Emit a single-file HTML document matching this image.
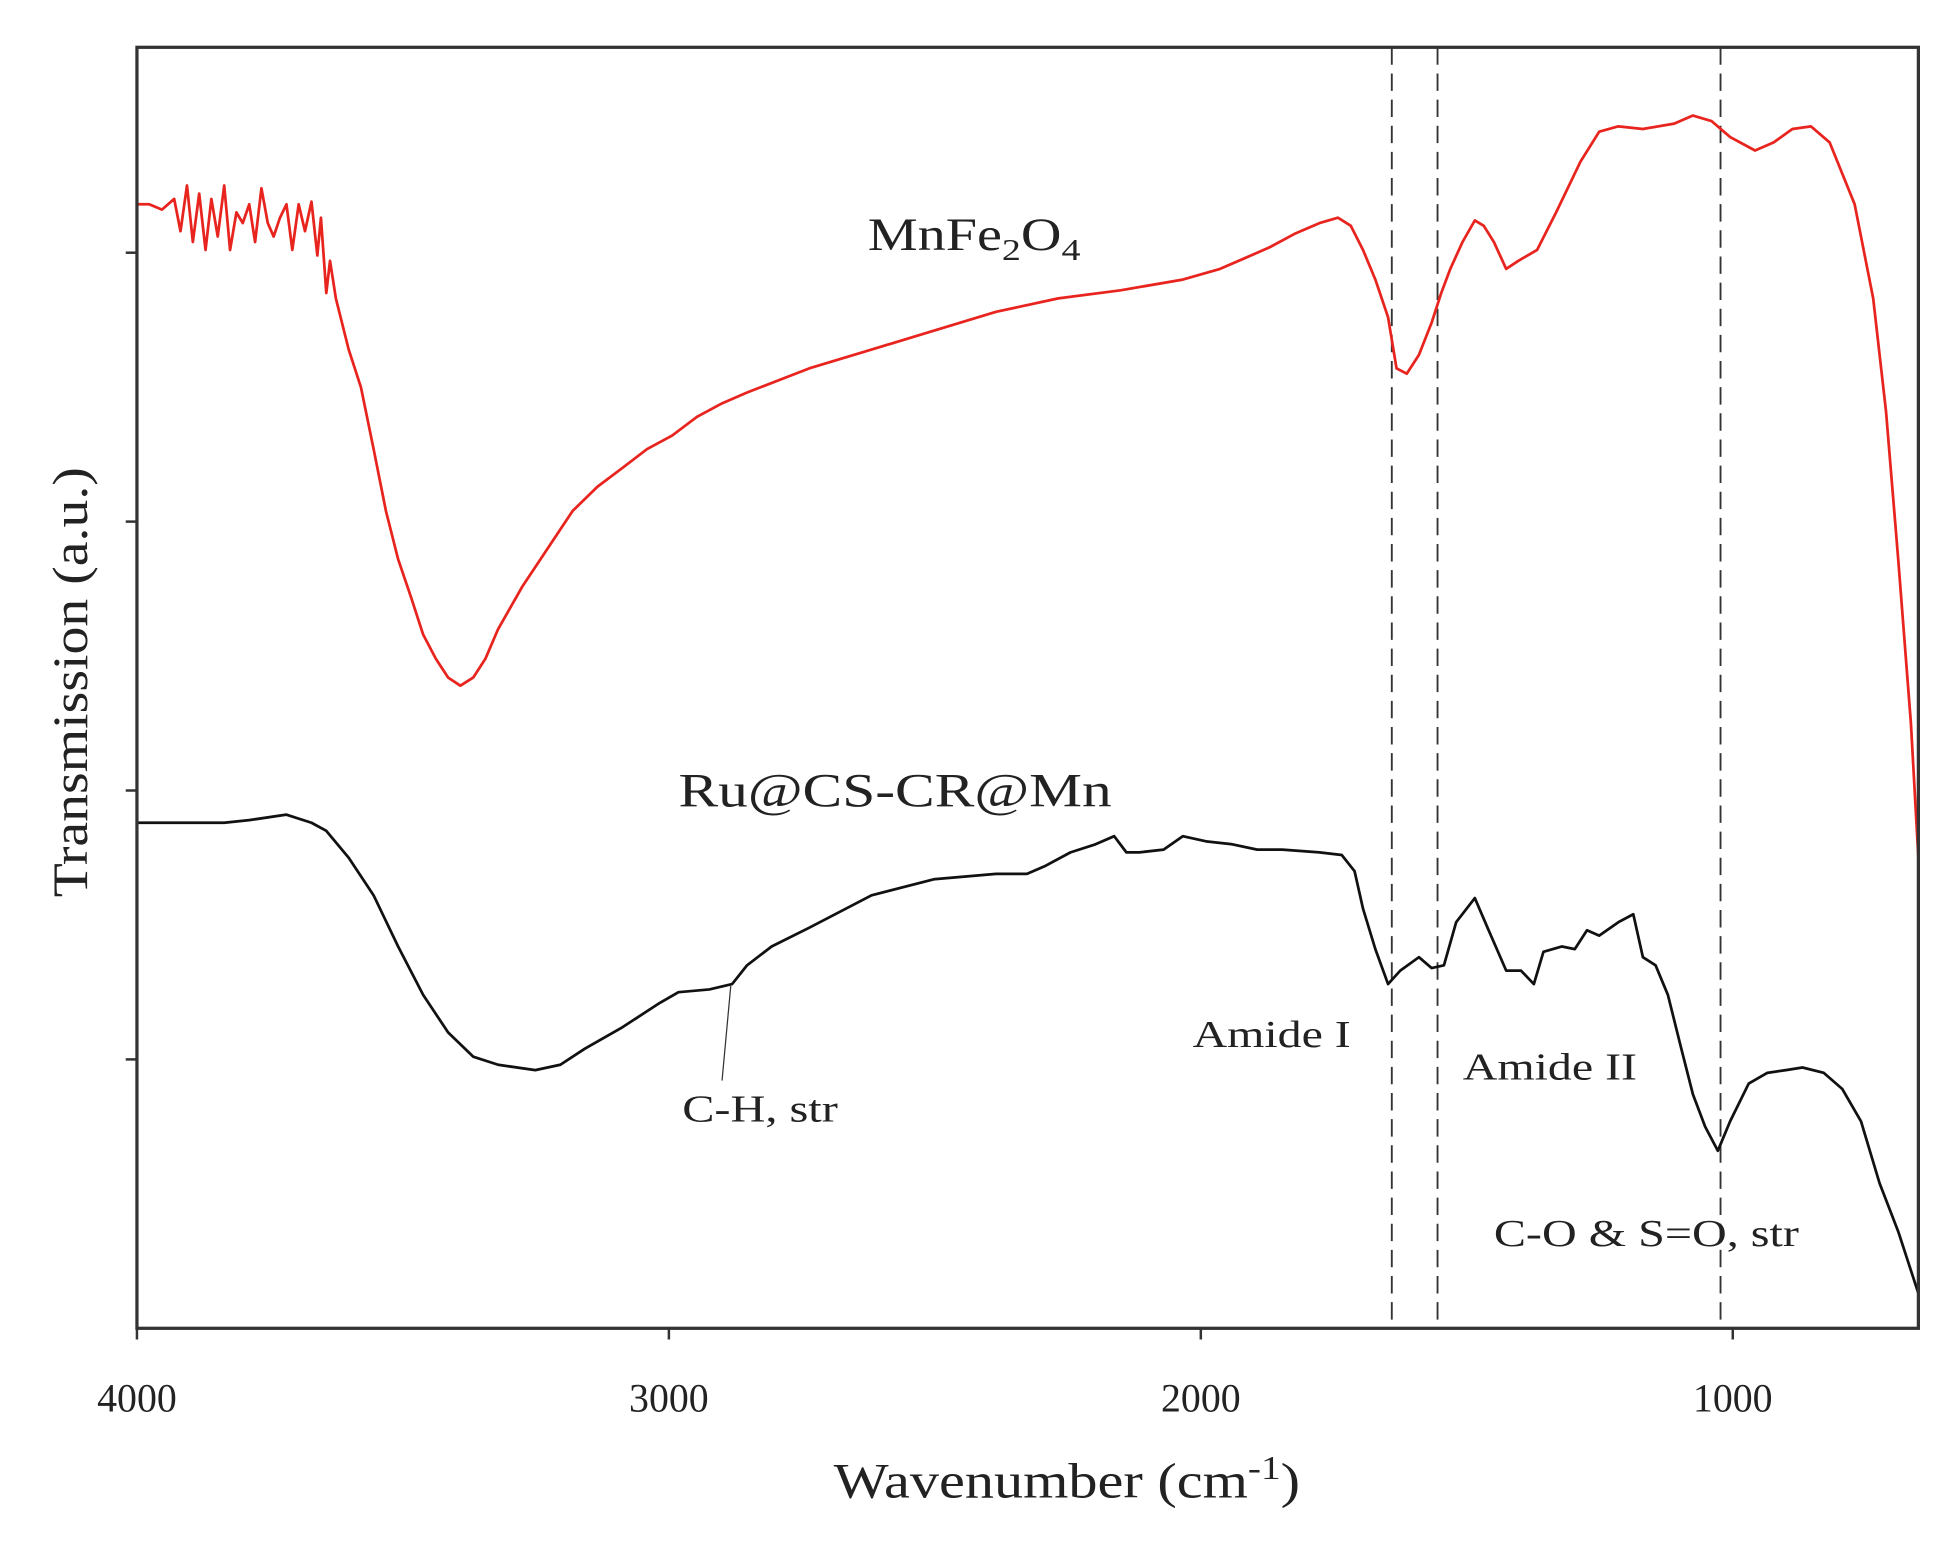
<!DOCTYPE html>
<html><head><meta charset="utf-8"><style>
html,body{margin:0;padding:0;background:#fff;}
svg{display:block;}
text{font-family:"Liberation Serif",serif;fill:#222;}
</style></head><body>
<svg id="chart" width="1952" height="1553" viewBox="0 0 1568 1247.5" xmlns="http://www.w3.org/2000/svg">
<g id="plot"></g>
<g transform="translate(697,201) scale(1.22,1)"><text x="0" y="0" font-size="37">MnFe<tspan font-size="25" dy="8">2</tspan><tspan dy="-8">O</tspan><tspan font-size="25" dy="8">4</tspan></text></g>
<text x="545" y="648" font-size="38" textLength="348" lengthAdjust="spacingAndGlyphs">Ru@CS-CR@Mn</text>
<text x="548" y="901" font-size="31" textLength="125" lengthAdjust="spacingAndGlyphs">C-H, str</text>
<line x1="587" y1="792" x2="580" y2="868" stroke="#333" stroke-width="1"/>
<text x="958" y="841" font-size="31" textLength="127" lengthAdjust="spacingAndGlyphs">Amide I</text>
<text x="1175" y="867" font-size="31" textLength="140" lengthAdjust="spacingAndGlyphs">Amide II</text>
<text x="1200" y="1001" font-size="31" textLength="245" lengthAdjust="spacingAndGlyphs">C-O &amp; S=O, str</text>
<g transform="translate(857,1203) scale(1.17,1)"><text x="0" y="0" font-size="40" text-anchor="middle">Wavenumber (cm<tspan font-size="27" dy="-15">-1</tspan><tspan dy="15">)</tspan></text></g>
<g transform="translate(70,548) rotate(-90) scale(1.12,1)"><text x="0" y="0" font-size="40" text-anchor="middle">Transmission (a.u.)</text></g>
</svg>
<script>
const redWn=[4000,3977,3953,3930,3918,3906,3895,3883,3871,3860,3848,3836,3825,3813,3801,3789,3778,3766,3754,3743,3731,3719,3708,3696,3684,3672,3661,3654,3644,3637,3626,3602,3579,3555,3532,3509,3485,3462,3438,3415,3392,3368,3345,3321,3275,3228,3181,3134,3087,3041,2994,2947,2900,2853,2736,2619,2502,2385,2268,2151,2034,1964,1917,1871,1824,1777,1742,1718,1695,1672,1648,1632,1613,1590,1566,1548,1531,1508,1485,1468,1449,1426,1403,1368,1332,1286,1251,1215,1169,1110,1075,1040,1005,958,923,888,853,818,771,736,712,689,665,651];
const redT=[4.18,4.18,4.16,4.20,4.08,4.25,4.04,4.22,4.01,4.20,4.06,4.25,4.01,4.15,4.11,4.18,4.04,4.24,4.11,4.06,4.13,4.18,4.01,4.18,4.08,4.19,3.99,4.13,3.85,3.97,3.83,3.64,3.50,3.27,3.04,2.86,2.72,2.58,2.49,2.42,2.39,2.42,2.49,2.60,2.76,2.90,3.04,3.13,3.20,3.27,3.32,3.39,3.44,3.48,3.57,3.64,3.71,3.78,3.83,3.86,3.90,3.94,3.98,4.02,4.07,4.11,4.13,4.10,4.01,3.90,3.76,3.57,3.55,3.62,3.74,3.85,3.94,4.04,4.12,4.10,4.04,3.94,3.97,4.01,4.15,4.34,4.45,4.47,4.46,4.48,4.51,4.49,4.43,4.38,4.41,4.46,4.47,4.41,4.18,3.83,3.41,2.86,2.25,1.75];
const blackWn=[4000,3906,3836,3789,3719,3672,3644,3602,3555,3509,3462,3415,3368,3321,3251,3204,3158,3087,3017,2982,2924,2881,2853,2807,2736,2619,2502,2385,2327,2292,2245,2198,2163,2140,2116,2070,2034,1988,1941,1894,1847,1777,1735,1711,1695,1672,1648,1625,1590,1566,1543,1520,1485,1461,1426,1398,1374,1356,1321,1297,1274,1251,1215,1187,1169,1145,1122,1098,1075,1052,1028,1005,970,935,900,869,829,794,759,724,689,651];
const blackT=[1.88,1.88,1.88,1.89,1.91,1.88,1.85,1.75,1.61,1.42,1.24,1.10,1.01,0.98,0.96,0.98,1.04,1.12,1.21,1.25,1.26,1.28,1.35,1.42,1.49,1.61,1.67,1.69,1.69,1.72,1.77,1.80,1.83,1.77,1.77,1.78,1.83,1.81,1.80,1.78,1.78,1.77,1.76,1.70,1.56,1.41,1.28,1.33,1.38,1.34,1.35,1.51,1.60,1.49,1.33,1.33,1.28,1.40,1.42,1.41,1.48,1.46,1.51,1.54,1.38,1.35,1.24,1.05,0.87,0.75,0.66,0.77,0.91,0.95,0.96,0.97,0.95,0.89,0.77,0.54,0.36,0.13];
const xTicks=[4000,3000,2000,1000];
const xTickLabels=["4000","3000","2000","1000"];
const yTicks=[1,2,3,4];
const markerWn=[1641,1555,1023];

const X0=110,X1=1541,Y0=1067,Y1=38;
const WN_MAX=4000,WN_MIN=4000-(X1-X0)/0.4273;
function xs(w){return X0+(WN_MAX-w)/(WN_MAX-WN_MIN)*(X1-X0);}
function ys(v){return Y0-v*216;}
const NS="http://www.w3.org/2000/svg";
const g=document.getElementById('plot');
function mk(tag,attrs){const e=document.createElementNS(NS,tag);for(const k in attrs)e.setAttribute(k,attrs[k]);g.appendChild(e);return e;}

markerWn.forEach((w,i)=>{
  const l=mk('line',{x1:xs(w),x2:xs(w),y1:Y1,y2:Y0,stroke:'#333','stroke-width':1.5,'stroke-dasharray':'14,7'});
  
  
});

function path(wn,t,color,name){
  let d='';
  for(let i=0;i<wn.length;i++){d+=(i?'L':'M')+xs(wn[i]).toFixed(1)+','+ys(t[i]).toFixed(1);}
  const p=mk('path',{d:d,fill:'none',stroke:color,'stroke-width':2.2,'stroke-linejoin':'round'});
  
  
}
path(redWn,redT,'#e8241f','series-mnfe2o4');
path(blackWn,blackT,'#111','series-ru-cs-cr-mn');

const frame=mk('rect',{x:X0,y:Y1,width:X1-X0,height:Y0-Y1,fill:'none',stroke:'#333','stroke-width':2.6});



xTicks.forEach((w,i)=>{
  const t=mk('line',{x1:xs(w),x2:xs(w),y1:Y0,y2:Y0+9,stroke:'#333','stroke-width':2});
  
  
  const tx=mk('text',{x:xs(w),y:Y0+67,'font-size':32,'text-anchor':'middle'});
  tx.textContent=xTickLabels[i];
  
  
});
yTicks.forEach(v=>{
  const t=mk('line',{x1:X0-9,x2:X0,y1:ys(v),y2:ys(v),stroke:'#333','stroke-width':2});
  
  
});
</script>
</body></html>
